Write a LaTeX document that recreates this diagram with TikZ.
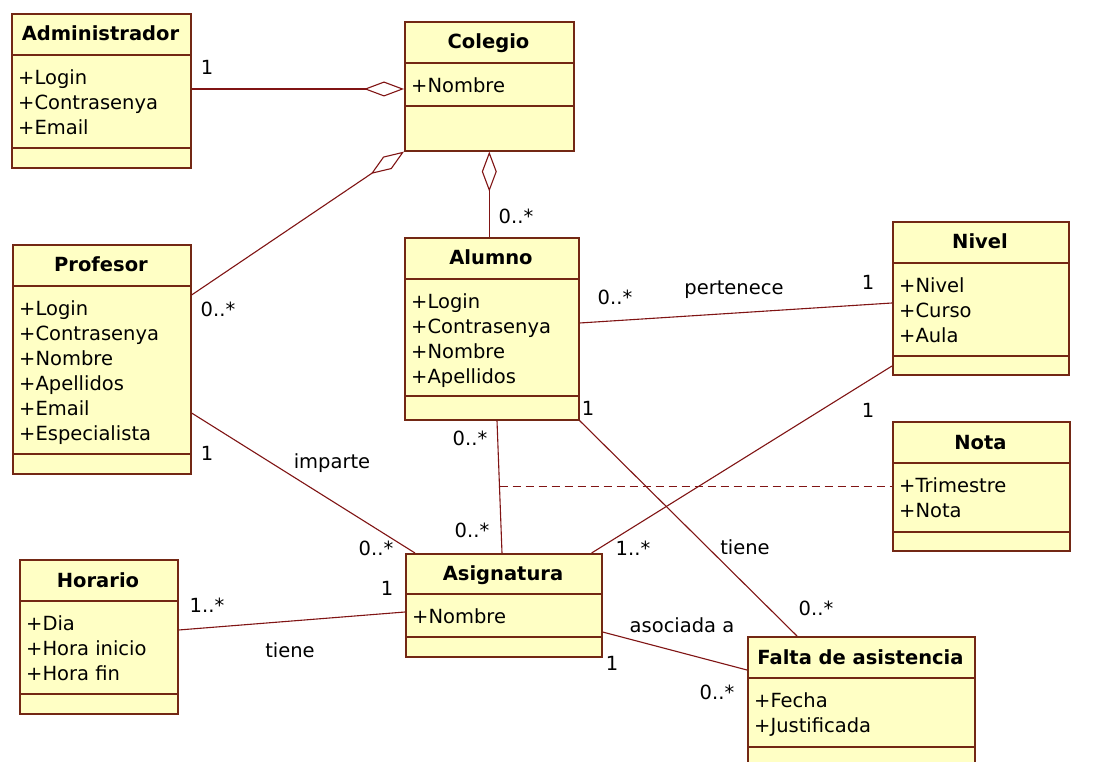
\documentclass[tikz,border=0pt]{standalone}
\usepackage{fontspec}
\setmainfont{DejaVu Sans}
\usetikzlibrary{arrows.meta,calc}
\definecolor{clsfill}{RGB}{255,255,197}
\definecolor{clsborder}{RGB}{115,40,20}
\definecolor{assoc}{RGB}{128,20,20}
\tikzset{
  clsbox/.style={draw=clsborder, fill=clsfill, line width=1.6pt, inner sep=0pt, rectangle},
  clsline/.style={draw=clsborder, line width=1.6pt},
  clstitle/.style={font=\bfseries\fontsize{19.5}{25}\selectfont, inner sep=0pt, text height=14pt, text depth=0pt},
  clsattr/.style={font=\fontsize{19.5}{25}\selectfont, inner sep=0pt, align=left, anchor=north west},
  conn/.style={draw=assoc, line width=1.1pt},
  aggr/.style={conn, {Diamond[open, length=40pt, width=15pt, line width=1.1pt]}-},
  lbl/.style={font=\fontsize{19.5}{22}\selectfont, inner sep=0pt, text height=14pt, text depth=0pt},
}
% name, x1, y1, x2, yh, ym, y2, title, attrs
\newcommand\umlcls[9]{%
  \node[clsbox, minimum width={(#4-#2)*1pt}, minimum height={(#7-#3)*1pt}, anchor=north west] (#1) at (#2,#3) {};
  \draw[clsline] (#2,#5) -- (#4,#5);
  \draw[clsline] (#2,#6) -- (#4,#6);
  \node[clstitle] (#1-t) at ({(#2+#4)/2},{(#3+#5)/2}) {#8};
  \node[clsattr] (#1-a) at ({#2+7},{#5+14}) {#9};
}
\begin{document}
\begin{tikzpicture}[x=1pt,y=-1pt]
\useasboundingbox[fill=white] (0,0) rectangle (1096,762);

\umlcls{adm}{11}{13}{190}{55}{148}{167}{Administrador}{+Login\\+Contrasenya\\+Email}
\umlcls{col}{404}{21}{573}{63}{106}{150}{Colegio}{+Nombre}
\umlcls{prof}{12}{244}{190}{286}{454}{473}{Profesor}{+Login\\+Contrasenya\\+Nombre\\+Apellidos\\+Email\\+Especialista}
\umlcls{alu}{404}{237}{578}{279}{396}{419}{Alumno}{+Login\\+Contrasenya\\+Nombre\\+Apellidos}
\umlcls{niv}{892}{221}{1068}{263}{356}{374}{Nivel}{+Nivel\\+Curso\\+Aula}
\umlcls{nota}{892}{421}{1069}{463}{532}{550}{Nota}{+Trimestre\\+Nota}
\umlcls{hor}{19}{559}{177}{601}{694}{713}{Horario}{+Dia\\+Hora inicio\\+Hora fin}
\umlcls{asi}{405}{553}{601}{594}{637}{656}{Asignatura}{+Nombre}
\umlcls{fal}{747}{636}{974}{678}{747}{764}{Falta de asistencia}{+Fecha\\+Justificada}

% Administrador - Colegio (aggregation)
\draw[aggr] ([yshift=-68pt]col.north west) -- ([yshift=-76pt]adm.north east);
\node[lbl] (l1) at (207,68) {1};

% Profesor - Colegio (aggregation)
\draw[aggr] (col.south west) -- ([yshift=-51pt]prof.north east);
\node[lbl] (l2) at (218,310) {0..*};

% Colegio - Alumno (aggregation)
\draw[aggr] (col.south) -- (col.south |- alu.north);
\node[lbl] (l3) at (516,217) {0..*};

% Alumno - Nivel : pertenece
\draw[conn] ([yshift=-86pt]alu.north east) -- ([yshift=-82pt]niv.north west);
\node[lbl] (l4) at (615,298) {0..*};
\node[lbl] (l5) at (734,288) {pertenece};
\node[lbl] (l6) at (868,283) {1};

% Alumno - Falta de asistencia : tiene
\draw[conn] (alu.south east) -- ([xshift=50pt]fal.north west);
\node[lbl] (l7) at (588,408) {1};
\node[lbl] (l8) at (745,547) {tiene};
\node[lbl] (l9) at (816,608) {0..*};

% Alumno - Asignatura (with association class Nota)
\coordinate (aa1) at ([xshift=93pt]alu.south west);
\coordinate (aa2) at ([xshift=97pt]asi.north west);
\draw[conn] (aa1) -- (aa2);
\coordinate (aamid) at ($(aa1)!0.5!(aa2)$);
\draw[conn, dash pattern=on 8pt off 5pt] (aamid) -- (aamid -| nota.west);
\node[lbl] (l10) at (470,438) {0..*};
\node[lbl] (l11) at (472,530) {0..*};

% Profesor - Asignatura : imparte
\draw[conn] ([yshift=-169pt]prof.north east) -- ([xshift=10pt]asi.north west);
\node[lbl] (l12) at (207,453) {1};
\node[lbl] (l13) at (332,461) {imparte};
\node[lbl] (l14) at (376,548) {0..*};

% Nivel - Asignatura
\draw[conn] ([yshift=-145pt]niv.north west) -- ([xshift=-11pt]asi.north east);
\node[lbl] (l15) at (868,410) {1};
\node[lbl] (l16) at (633,548) {1..*};

% Horario - Asignatura : tiene
\draw[conn] ([yshift=-71pt]hor.north east) -- ([yshift=-59pt]asi.north west);
\node[lbl] (l17) at (207,605) {1..*};
\node[lbl] (l18) at (290,650) {tiene};
\node[lbl] (l19) at (387,588) {1};

% Asignatura - Falta de asistencia : asociada a
\draw[conn] ([yshift=-79pt]asi.north east) -- ([yshift=-34pt]fal.north west);
\node[lbl] (l20) at (682,625) {asociada a};
\node[lbl] (l21) at (612,663) {1};
\node[lbl] (l22) at (717,692) {0..*};
\end{tikzpicture}
\end{document}
